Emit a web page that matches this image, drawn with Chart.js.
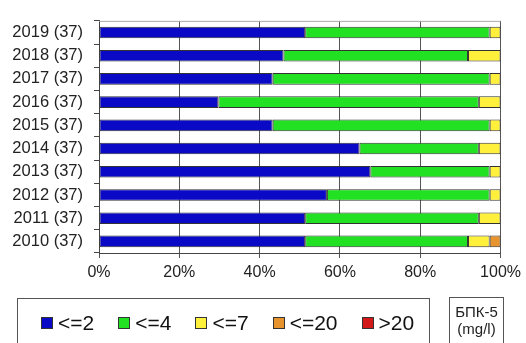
<!DOCTYPE html>
<html>
<head>
<meta charset="utf-8">
<script src="https://cdn.jsdelivr.net/npm/chart.js@4/dist/chart.umd.min.js"></script>
<style>
  body { margin: 0; background: #fff; font-family: "Liberation Sans", Arial, sans-serif; }
  #wrap { position: relative; width: 526px; height: 343px; overflow: hidden; }
  #grafico { position: absolute; left: 0; top: 0; }
  #legenda {
    position: absolute; left: 17px; top: 298px; width: 413px; height: 70px;
    border: 1px solid #555; box-sizing: border-box; padding: 13px 0 0 23px;
    white-space: nowrap; font-size: 21px; line-height: 22px; color: #111;
  }
  #legenda .item { display: inline-block; margin-right: 24px; }
  #legenda .cx {
    display: inline-block; width: 10px; height: 10px; border: 1px solid #333;
    margin-right: 5px; vertical-align: 1px;
  }
  #unidade {
    position: absolute; left: 449px; top: 297px; width: 55px; height: 70px;
    border: 1px solid #555; box-sizing: border-box; text-align: center;
    font-size: 15px; line-height: 17px; padding-top: 5px; color: #222;
  }
</style>
</head>
<body>
<div id="wrap">
  <canvas id="grafico" width="526" height="343"></canvas>
  <div id="legenda"></div>
  <div id="unidade">БПК-5<br>(mg/l)</div>
</div>
<script>
// anos (de cima para baixo) e numero de pontos de medicao
const anos = ['2019', '2018', '2017', '2016', '2015', '2014', '2013', '2012', '2011', '2010'];
const pontos = [37, 37, 37, 37, 37, 37, 37, 37, 37, 37];

// classes de concentracao
const classes = ['<=2', '<=4', '<=7', '<=20', '>20'];
const cores = ['#0a0ac6', '#22e022', '#fff03c', '#e8942e', '#d21818'];

// quantidade de pontos em cada classe, por ano
const ate2 = [19, 17, 16, 11, 16, 24, 25, 21, 19, 19];
const ate4 = [17, 17, 20, 24, 20, 11, 11, 15, 16, 15];
const ate7 = [1, 3, 1, 2, 1, 2, 1, 1, 2, 2];
const ate20 = [0, 0, 0, 0, 0, 0, 0, 0, 0, 1];
const acima20 = [0, 0, 0, 0, 0, 0, 0, 0, 0, 0];

const rotulos = anos.map((a, i) => a + ' (' + pontos[i] + ')');
const series = [ate2, ate4, ate7, ate20, acima20];
const percentual = s => s.map((v, i) => v / pontos[i] * 100);

const bordaTopo = {
  id: 'bordaTopo',
  afterDraw(chart) {
    const a = chart.chartArea, ctx = chart.ctx;
    ctx.save();
    ctx.strokeStyle = '#aaa';
    ctx.lineWidth = 1;
    ctx.beginPath();
    ctx.moveTo(a.left, a.top + 0.5);
    ctx.lineTo(a.right, a.top + 0.5);
    ctx.stroke();
    ctx.restore();
  }
};

new Chart(document.getElementById('grafico').getContext('2d'), {
  type: 'bar',
  data: {
    labels: rotulos,
    datasets: series.map((s, i) => ({
      label: classes[i],
      data: percentual(s),
      backgroundColor: cores[i],
      borderColor: '#333',
      borderWidth: 1,
      borderSkipped: false,
      categoryPercentage: 1,
      barPercentage: 0.5
    }))
  },
  options: {
    indexAxis: 'y',
    responsive: false,
    animation: false,
    layout: { padding: { left: 0, top: 15, right: 25, bottom: 60 } },
    plugins: { legend: { display: false }, tooltip: { enabled: false } },
    scales: {
      x: {
        stacked: true,
        min: 0,
        max: 100,
        afterFit: s => { s.height = 30; },
        grid: { color: '#555', tickLength: 5, lineWidth: 1 },
        border: { color: '#444' },
        ticks: {
          stepSize: 20,
          padding: 5,
          color: '#222',
          font: { family: 'Liberation Sans', size: 16 },
          callback: v => v + '%'
        }
      },
      y: {
        stacked: true,
        afterFit: s => { s.width = 99; },
        grid: { drawOnChartArea: false, offset: true, color: '#444', tickLength: 5 },
        border: { color: '#444' },
        ticks: {
          autoSkip: false,
          padding: 11,
          color: '#222',
          font: { family: 'Liberation Sans', size: 16.5 }
        }
      }
    }
  },
  plugins: [bordaTopo]
});

const leg = document.getElementById('legenda');
classes.forEach((c, i) => {
  const it = document.createElement('span');
  it.className = 'item';
  const cx = document.createElement('span');
  cx.className = 'cx';
  cx.style.background = cores[i];
  it.appendChild(cx);
  it.appendChild(document.createTextNode(c));
  leg.appendChild(it);
});
</script>
</body>
</html>
